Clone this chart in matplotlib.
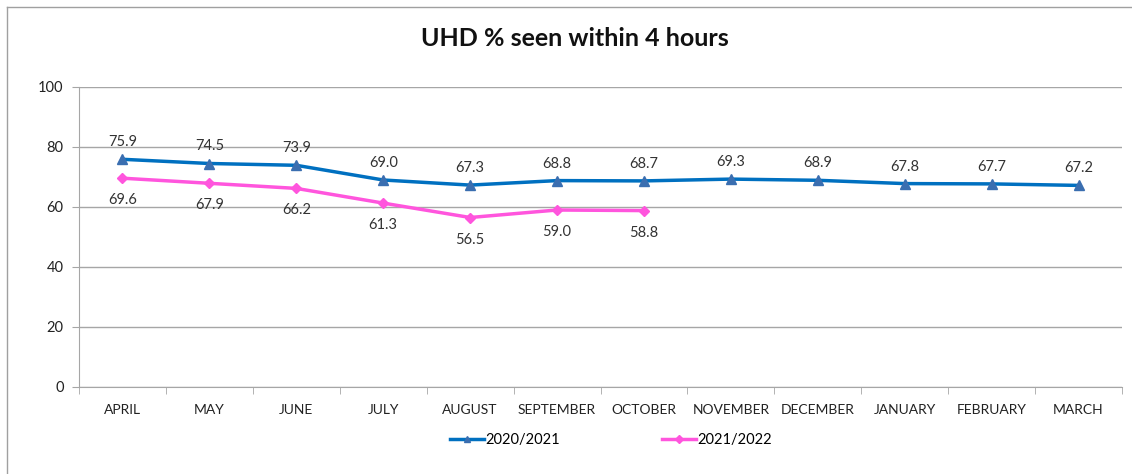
import matplotlib.pyplot as plt
from matplotlib.lines import Line2D
import numpy as np

months = ["APRIL", "MAY", "JUNE", "JULY", "AUGUST", "SEPTEMBER", "OCTOBER",
          "NOVEMBER", "DECEMBER", "JANUARY", "FEBRUARY", "MARCH"]
y2020 = [75.9, 74.5, 73.9, 69.0, 67.3, 68.8, 68.7, 69.3, 68.9, 67.8, 67.7, 67.2]
y2021 = [69.6, 67.9, 66.2, 61.3, 56.5, 59.0, 58.8]

plt.rcParams['font.family'] = ['Lato', 'DejaVu Sans']

fig = plt.figure(figsize=(11.32, 4.74), dpi=100)
ax = fig.add_axes([79/1132, 1 - 387/474, (1122 - 79)/1132, 300/474])

x1 = np.arange(len(y2020))
x2 = np.arange(len(y2021))

ax.plot(x1, y2020, color="#0070C0", lw=2.5, marker="^", markersize=7,
        markerfacecolor="#3A6EB0", markeredgecolor="#3A6EB0", label="2020/2021", zorder=3)
ax.plot(x2, y2021, color="#FF55DD", lw=2.5, marker="D", markersize=5.5,
        markerfacecolor="#FF55DD", markeredgecolor="#FF55DD", label="2021/2022", zorder=3)

for xi, v in zip(x1, y2020):
    ax.annotate(f"{v:.1f}", (xi, v), xytext=(0, 17), textcoords="offset pixels",
                ha="center", va="center", fontsize=10.5, color="#333333")
for xi, v in zip(x2, y2021):
    ax.annotate(f"{v:.1f}", (xi, v), xytext=(0, -22), textcoords="offset pixels",
                ha="center", va="center", fontsize=10.5, color="#333333")

ax.set_ylim(0, 100)
ax.set_xlim(-0.5, len(months) - 0.5)
ax.set_yticks(range(0, 101, 20))
ax.set_xticks(x1)
ax.set_xticklabels(months)
ax.set_xticks(np.arange(-0.5, len(months), 1), minor=True)
ax.tick_params(axis="x", which="major", length=0, pad=12, labelsize=10, labelcolor="#222222")
ax.tick_params(axis="x", which="minor", length=5, color="#A6A6A6")
ax.tick_params(axis="y", length=5, color="#A6A6A6", labelsize=10.5, labelcolor="#222222", pad=6)
ax.grid(axis="y", color="#A6A6A6", lw=1)
ax.set_axisbelow(True)
for s in ["top", "right"]:
    ax.spines[s].set_visible(False)
for s in ["left", "bottom"]:
    ax.spines[s].set_color("#A6A6A6")

fig.text(575/1132, 1 - 38/474, "UHD % seen within 4 hours", ha="center", va="center",
         fontsize=18, fontweight="bold", color="#111111")

fig.legend(loc="center", bbox_to_anchor=(611/1132, 1 - 440/474), ncol=2, frameon=False,
           fontsize=10.5, handlelength=2.3, columnspacing=7, handletextpad=0.1,
           markerscale=0.7)

# outer chart border (left and top visible)
fig.add_artist(Line2D([7/1132, 7/1132], [0, 1 - 7/474], transform=fig.transFigure, color="#A0A0A0", lw=1))
fig.add_artist(Line2D([7/1132, 1], [1 - 7/474, 1 - 7/474], transform=fig.transFigure, color="#A0A0A0", lw=1))

fig.savefig("out.png", dpi=100)
